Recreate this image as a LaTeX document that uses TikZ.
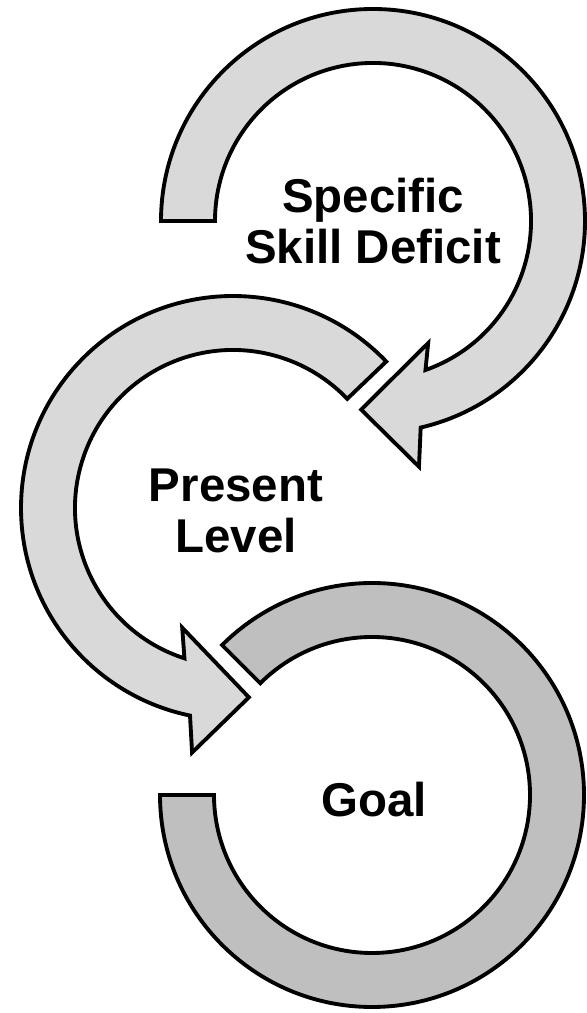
\documentclass[tikz,border=0pt]{standalone}
\usepackage{fontspec}
\setmainfont{Liberation Sans}
\begin{document}
\begin{tikzpicture}[x = 0.02cm, y = 0.02cm,
        ring/.style = {draw = black, line width = 2.2pt},
        ringtext/.style = {font = \bfseries\fontsize{27}{29.5}\selectfont, align = center}]
    \useasboundingbox (0, 0) rectangle (586, 1013);
    \coordinate (deficit) at (373, 792);
    \coordinate (present) at (233, 505);
    \coordinate (goal) at (372, 218);
    % top arrow, clockwise
    \scope[shift = {(deficit)}]
        \draw[ring, fill = black!15] (180:212) arc[start angle = 180, end angle = -77, radius = 212]
            -- (-79.4:250) -- (-93.6:189) -- (-65.7:134) -- (-70.6:158)
            arc[start angle = -70.6, end angle = 180, radius = 158] -- cycle;
    \endscope
    % middle arrow, counter-clockwise
    \scope[shift = {(present)}]
        \draw[ring, fill = black!15] (43.7:212) arc[start angle = 43.7, end angle = 258.3, radius = 212]
            -- (260.5:248) -- (274.8:190) -- (247:130) -- (252.1:158)
            arc[start angle = 252.1, end angle = 43.7, radius = 158] -- cycle;
    \endscope
    % bottom ring
    \scope[shift = {(goal)}]
        \draw[ring, fill = black!25] (180:212) arc[start angle = 180, end angle = 495, radius = 212]
            -- (495:158) arc[start angle = 495, end angle = 180, radius = 158] -- cycle;
    \endscope
    \node[ringtext] (deficittext) at (deficit) {Specific\\Skill Deficit};
    \node[ringtext] (presenttext) at ([shift = {(3, -3)}]present) {Present\\Level};
    \node[ringtext] (goaltext) at ([shift = {(2, -5)}]goal) {Goal};
\end{tikzpicture}
\end{document}
